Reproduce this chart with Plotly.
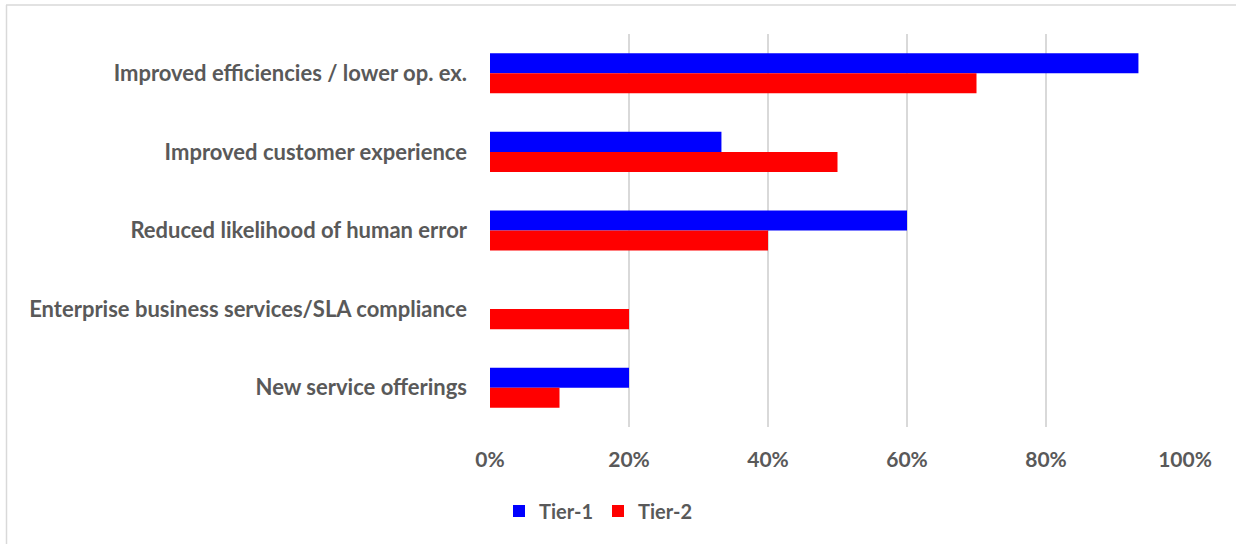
import plotly.graph_objects as go

W, H = 1236, 544

categories = [
    "Improved efficiencies / lower op. ex.",
    "Improved customer experience",
    "Reduced likelihood of human error",
    "Enterprise business services/SLA compliance",
    "New service offerings",
]
tier1 = [0.933, 0.333, 0.60, 0.0, 0.20]
tier2 = [0.70, 0.50, 0.40, 0.20, 0.10]
x_ticks = [0, 0.2, 0.4, 0.6, 0.8, 1.0]
x_tick_labels = ["0%", "20%", "40%", "60%", "80%", "100%"]

TEXT = "#595959"
GRID = "#d9d9d9"
FONT = "Lato"

fig = go.Figure()
fig.add_trace(go.Bar(name="Tier-1", y=categories, x=tier1, orientation="h",
                     marker=dict(color="#0000ff", line=dict(width=0))))
fig.add_trace(go.Bar(name="Tier-2", y=categories, x=tier2, orientation="h",
                     marker=dict(color="#ff0000", line=dict(width=0))))

# plot area in pixels
x0, x1 = 490, 1185
y_top, y_bot = 34, 427

fig.update_layout(
    width=W, height=H,
    margin=dict(l=0, r=0, t=0, b=0),
    paper_bgcolor="white", plot_bgcolor="white",
    barmode="group", bargap=0.49, bargroupgap=0,
    font=dict(family=FONT, color=TEXT, size=17),
    showlegend=True,
    legend=dict(orientation="h", x=598 / W, xanchor="center",
                y=1 - 511 / H, yanchor="middle",
                font=dict(family=FONT, size=20, color=TEXT, weight="bold"),
                traceorder="normal", itemwidth=30,
                bgcolor="rgba(0,0,0,0)"),
    xaxis=dict(domain=[x0 / W, x1 / W], range=[0, 1], tickvals=x_ticks,
               ticktext=x_tick_labels, showgrid=True, gridcolor=GRID,
               gridwidth=1.5, zeroline=False, showline=False, ticks="",
               ticklabelstandoff=18, automargin=False,
               tickfont=dict(family=FONT, size=21, color=TEXT, weight="bold")),
    yaxis=dict(domain=[1 - y_bot / H, 1 - y_top / H], autorange="reversed",
               showgrid=False, zeroline=False, showline=False, ticks="",
               ticklabelstandoff=22, automargin=False,
               tickfont=dict(family=FONT, size=22, color=TEXT, weight="bold")),
    shapes=[
        dict(type="line", xref="paper", yref="paper", x0=6 / W, x1=1,
             y0=1 - 5 / H, y1=1 - 5 / H, line=dict(color=GRID, width=1.5)),
        dict(type="line", xref="paper", yref="paper", x0=6.5 / W, x1=6.5 / W,
             y0=0, y1=1 - 5 / H, line=dict(color=GRID, width=1.5)),
    ],
)

fig.write_html("out.html")
